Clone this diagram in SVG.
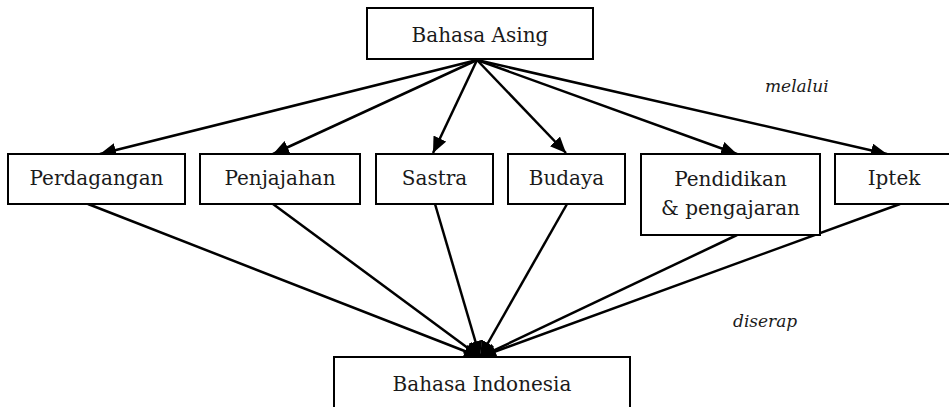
<svg xmlns="http://www.w3.org/2000/svg" width="949" height="407" viewBox="0 0 949 407">
<style>
.box{fill:#fff;stroke:#000;stroke-width:2}
.t{font-family:'DejaVu Serif','Liberation Serif',serif;font-size:20px;fill:#1a1a1a;text-anchor:middle}
.it{font-family:'DejaVu Serif','Liberation Serif',serif;font-size:17px;font-style:italic;fill:#1a1a1a}
.c{stroke:#000;stroke-width:2.5;fill:none;marker-end:url(#ah)}
</style>
<defs>
<marker id="ah" markerUnits="userSpaceOnUse" markerWidth="18" markerHeight="14" refX="16" refY="7" orient="auto">
<path d="M0,0 L16,7 L0,14 Z" fill="#000"/>
</marker>
</defs>
<rect width="949" height="407" fill="#fff"/>
<g id="connectors">
<line class="c" x1="477" y1="60" x2="100" y2="154"/>
<line class="c" x1="477" y1="60" x2="273" y2="154"/>
<line class="c" x1="477" y1="60" x2="433" y2="153"/>
<line class="c" x1="477" y1="60" x2="566" y2="153"/>
<line class="c" x1="477" y1="60" x2="737" y2="154"/>
<line class="c" x1="477" y1="60" x2="887" y2="154"/>
<line class="c" x1="88" y1="204" x2="480" y2="357"/>
<line class="c" x1="273" y1="204" x2="480" y2="357"/>
<line class="c" x1="435" y1="204" x2="480" y2="357"/>
<line class="c" x1="567" y1="204" x2="480" y2="357"/>
<line class="c" x1="737" y1="235" x2="480" y2="357"/>
<line class="c" x1="900" y1="204" x2="480" y2="357"/>
</g>
<g id="bahasa-asing"><rect class="box" x="367" y="8" width="226" height="51"/><text class="t" x="480" y="42">Bahasa Asing</text></g>
<g id="perdagangan"><rect class="box" x="8" y="154" width="177" height="50"/><text class="t" x="96.5" y="185">Perdagangan</text></g>
<g id="penjajahan"><rect class="box" x="200" y="154" width="160" height="50"/><text class="t" x="280" y="185">Penjajahan</text></g>
<g id="sastra"><rect class="box" x="376" y="154" width="117" height="50"/><text class="t" x="434.5" y="185">Sastra</text></g>
<g id="budaya"><rect class="box" x="508" y="154" width="117" height="50"/><text class="t" x="566.5" y="185">Budaya</text></g>
<g id="pendidikan"><rect class="box" x="641" y="154" width="179" height="81"/><text class="t" x="730.5" y="186">Pendidikan</text><text class="t" x="730.5" y="215">&amp; pengajaran</text></g>
<g id="iptek"><rect class="box" x="835" y="154" width="118" height="50"/><text class="t" x="894" y="185">Iptek</text></g>
<g id="bahasa-indonesia"><rect class="box" x="334" y="357" width="296" height="60"/><text class="t" x="482" y="391">Bahasa Indonesia</text></g>
<text class="it" x="765" y="92">melalui</text>
<text class="it" x="733" y="327">diserap</text>
</svg>
